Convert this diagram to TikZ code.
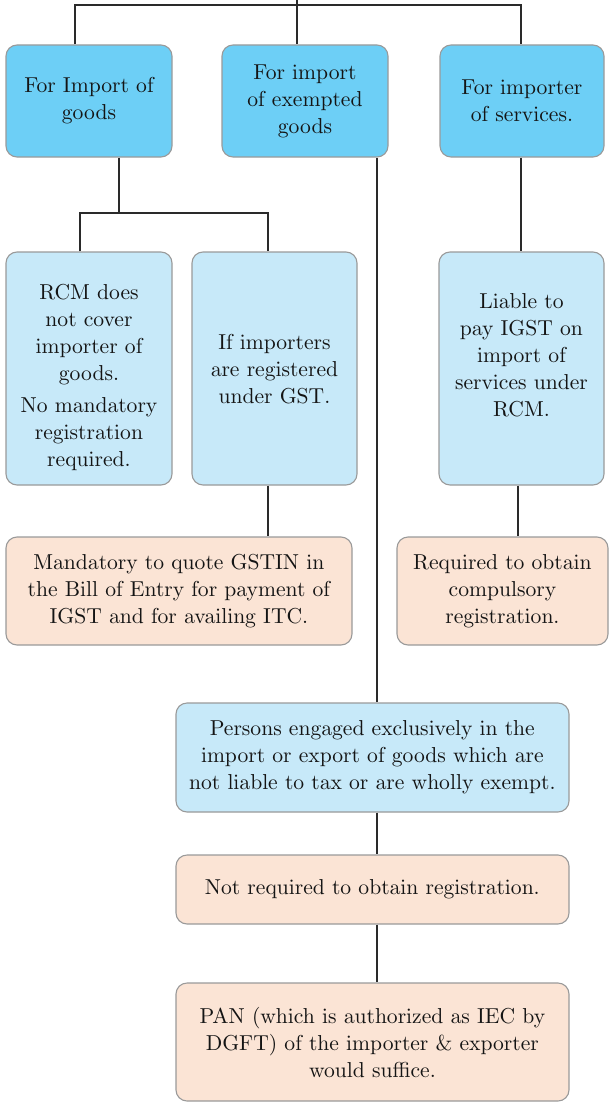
\documentclass[tikz,border=0pt]{standalone}
\begin{document}
% Computer Modern at its 10pt design size, enlarged for the box labels
\font\boxfont=cmr10 at 21.6pt
\definecolor{deepblue}{HTML}{6DCFF6}
\definecolor{paleblue}{HTML}{C7E9F9}
\definecolor{peach}{HTML}{FBE4D5}
\definecolor{boxline}{HTML}{9A9A9A}
\definecolor{linecol}{HTML}{2A2A2A}
\tikzset{
  box/.style={draw=boxline, line width=1.1pt, rounded corners=11pt, align=center,
    inner sep=0pt, text=black!92, font={\fontsize{21.6}{27}\selectfont\boxfont}},
  topbox/.style={box, fill=deepblue},
  bluebox/.style={box, fill=paleblue},
  peachbox/.style={box, fill=peach},
  conn/.style={draw=linecol, line width=1.3pt},
  sz/.style 2 args={minimum width=#1pt, minimum height=#2pt}
}
\begin{tikzpicture}[x=1pt, y=-1pt]
\useasboundingbox (0,0) rectangle (610,1105);

% first row: the three cases
\node[topbox, sz={166}{112}] (a) at (89,101) {For Import of\\goods};
\node[topbox, sz={166}{112}] (b) at (305,101) {For import\\of exempted\\goods};
\node[topbox, sz={164}{112}] (c) at (522,101) {For importer\\of services.};

% second row
\node[bluebox, sz={166}{233}] (d) at (89,368.5)
  {RCM does\\not cover\\importer of\\goods.\\[5pt]No mandatory\\registration\\required.\\[-40pt]};
\node[bluebox, sz={165}{233}] (e) at (274.5,368.5) {If importers\\are registered\\under GST.};
\node[bluebox, sz={165}{233}] (g) at (521.5,368.5)
  {Liable to\\pay IGST on\\import of\\services under\\RCM.\\[0pt]};

% third row
\node[peachbox, sz={346}{108}] (f) at (179,591)
  {Mandatory to quote GSTIN in\\the Bill of Entry for payment of\\IGST and for availing ITC.};
\node[peachbox, sz={211}{108}] (h) at (502.5,591)
  {Required to obtain\\compulsory\\registration.};

% exempted goods chain
\node[bluebox, sz={393}{109}] (i) at (372.5,757.5)
  {Persons engaged exclusively in the\\import or export of goods which are\\not liable to tax or are wholly exempt.};
\node[peachbox, sz={393}{69}] (j) at (372.5,889.5) {Not required to obtain registration.};
\node[peachbox, sz={393}{118}] (k) at (372.5,1042)
  {PAN (which is authorized as IEC by\\DGFT) of the importer \& exporter\\would suffice.};

% connector routing points
\coordinate (root) at (297,0);
\coordinate (busL) at (75,5);
\coordinate (busR) at (521,5);
\coordinate (aDown) at (119,213);
\coordinate (forkL) at (80,213);
\coordinate (forkR) at (268,213);
\coordinate (bDown) at (377,0);
\coordinate (gDown) at (518,0);

% connectors
\draw[conn] (root) -- (root |- b.north);
\draw[conn] (busL |- a.north) -- (busL) -- (busR) -- (busR |- c.north);
\draw[conn] (aDown |- a.south) -- (aDown);
\draw[conn] (forkL |- d.north) -- (forkL) -- (forkR) -- (forkR |- e.north);
\draw[conn] (forkR |- e.south) -- (forkR |- f.north);
\draw[conn] (busR |- c.south) -- (busR |- g.north);
\draw[conn] (gDown |- g.south) -- (gDown |- h.north);
\draw[conn] (bDown |- b.south) -- (bDown |- i.north);
\draw[conn] (bDown |- i.south) -- (bDown |- j.north);
\draw[conn] (bDown |- j.south) -- (bDown |- k.north);
\end{tikzpicture}
\end{document}
